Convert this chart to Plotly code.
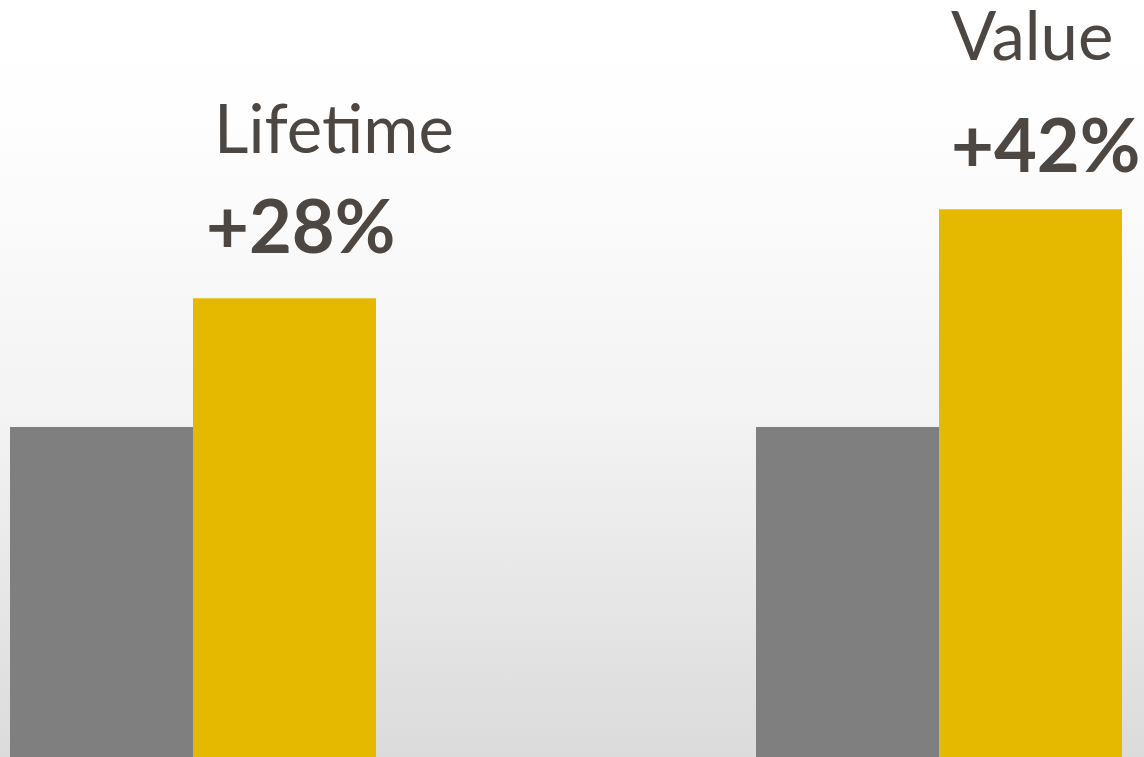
import base64
import plotly.graph_objects as go

# Data
categories = ["Lifetime", "Value"]
baseline_values = [100, 100]
improved_values = [139, 166]
gain_labels = ["+28%", "+42%"]

GREY = "#7f7f7f"
GOLD = "#e5b900"
TEXT = "#4d4743"

# Soft vertical gradient for the backdrop
svg = (
    '<svg xmlns="http://www.w3.org/2000/svg" width="10" height="100" preserveAspectRatio="none">'
    '<defs><linearGradient id="g" x1="0" y1="0" x2="0" y2="1">'
    '<stop offset="0" stop-color="#ffffff"/>'
    '<stop offset="0.15" stop-color="#fefefe"/>'
    '<stop offset="0.55" stop-color="#f3f3f3"/>'
    '<stop offset="1" stop-color="#dbdbdb"/>'
    '</linearGradient></defs>'
    '<rect width="10" height="100" fill="url(#g)"/></svg>'
)
bg_uri = "data:image/svg+xml;base64," + base64.b64encode(svg.encode()).decode()

fig = go.Figure()
fig.add_trace(go.Bar(x=categories, y=baseline_values, name="Before",
                     marker=dict(color=GREY, line=dict(width=0))))
fig.add_trace(go.Bar(x=categories, y=improved_values, name="After",
                     marker=dict(color=GOLD, line=dict(width=0))))

W, H = 1144, 757

def px(x):
    return x / W

def py(y):
    return 1 - y / H

# Category names and gains above each pair
label_pos = [
    # (name_x, name_y, gain_x, gain_y)
    (212, 127, 204, 224),
    (949, 34, 949, 143),
]
for cat, gain, (nx, ny, gx, gy) in zip(categories, gain_labels, label_pos):
    fig.add_annotation(x=px(nx), y=py(ny), xref="paper", yref="paper",
                       text=cat, showarrow=False, xanchor="left", yanchor="middle",
                       font=dict(family="Lato", size=67, color=TEXT))
    fig.add_annotation(x=px(gx), y=py(gy), xref="paper", yref="paper",
                       text=f"<b>{gain}</b>", showarrow=False, xanchor="left", yanchor="middle",
                       font=dict(family="Lato", size=74, color=TEXT))

fig.update_layout(
    width=W, height=H,
    margin=dict(l=0, r=0, t=0, b=0),
    paper_bgcolor="white",
    plot_bgcolor="rgba(0,0,0,0)",
    barmode="group",
    bargap=0.5094,
    bargroupgap=0,
    showlegend=False,
    images=[dict(source=bg_uri, xref="paper", yref="paper", x=0, y=1,
                 sizex=1, sizey=1, sizing="stretch", xanchor="left",
                 yanchor="top", layer="below")],
    xaxis=dict(range=[-0.2587, 1.2748], showticklabels=False, ticks="",
               showgrid=False, zeroline=False, showline=True,
               linecolor="#c8c8c8", linewidth=1),
    yaxis=dict(range=[0, 229.4], visible=False, showgrid=False, zeroline=False),
)

fig.write_html("out.html", config={"displayModeBar": False})
